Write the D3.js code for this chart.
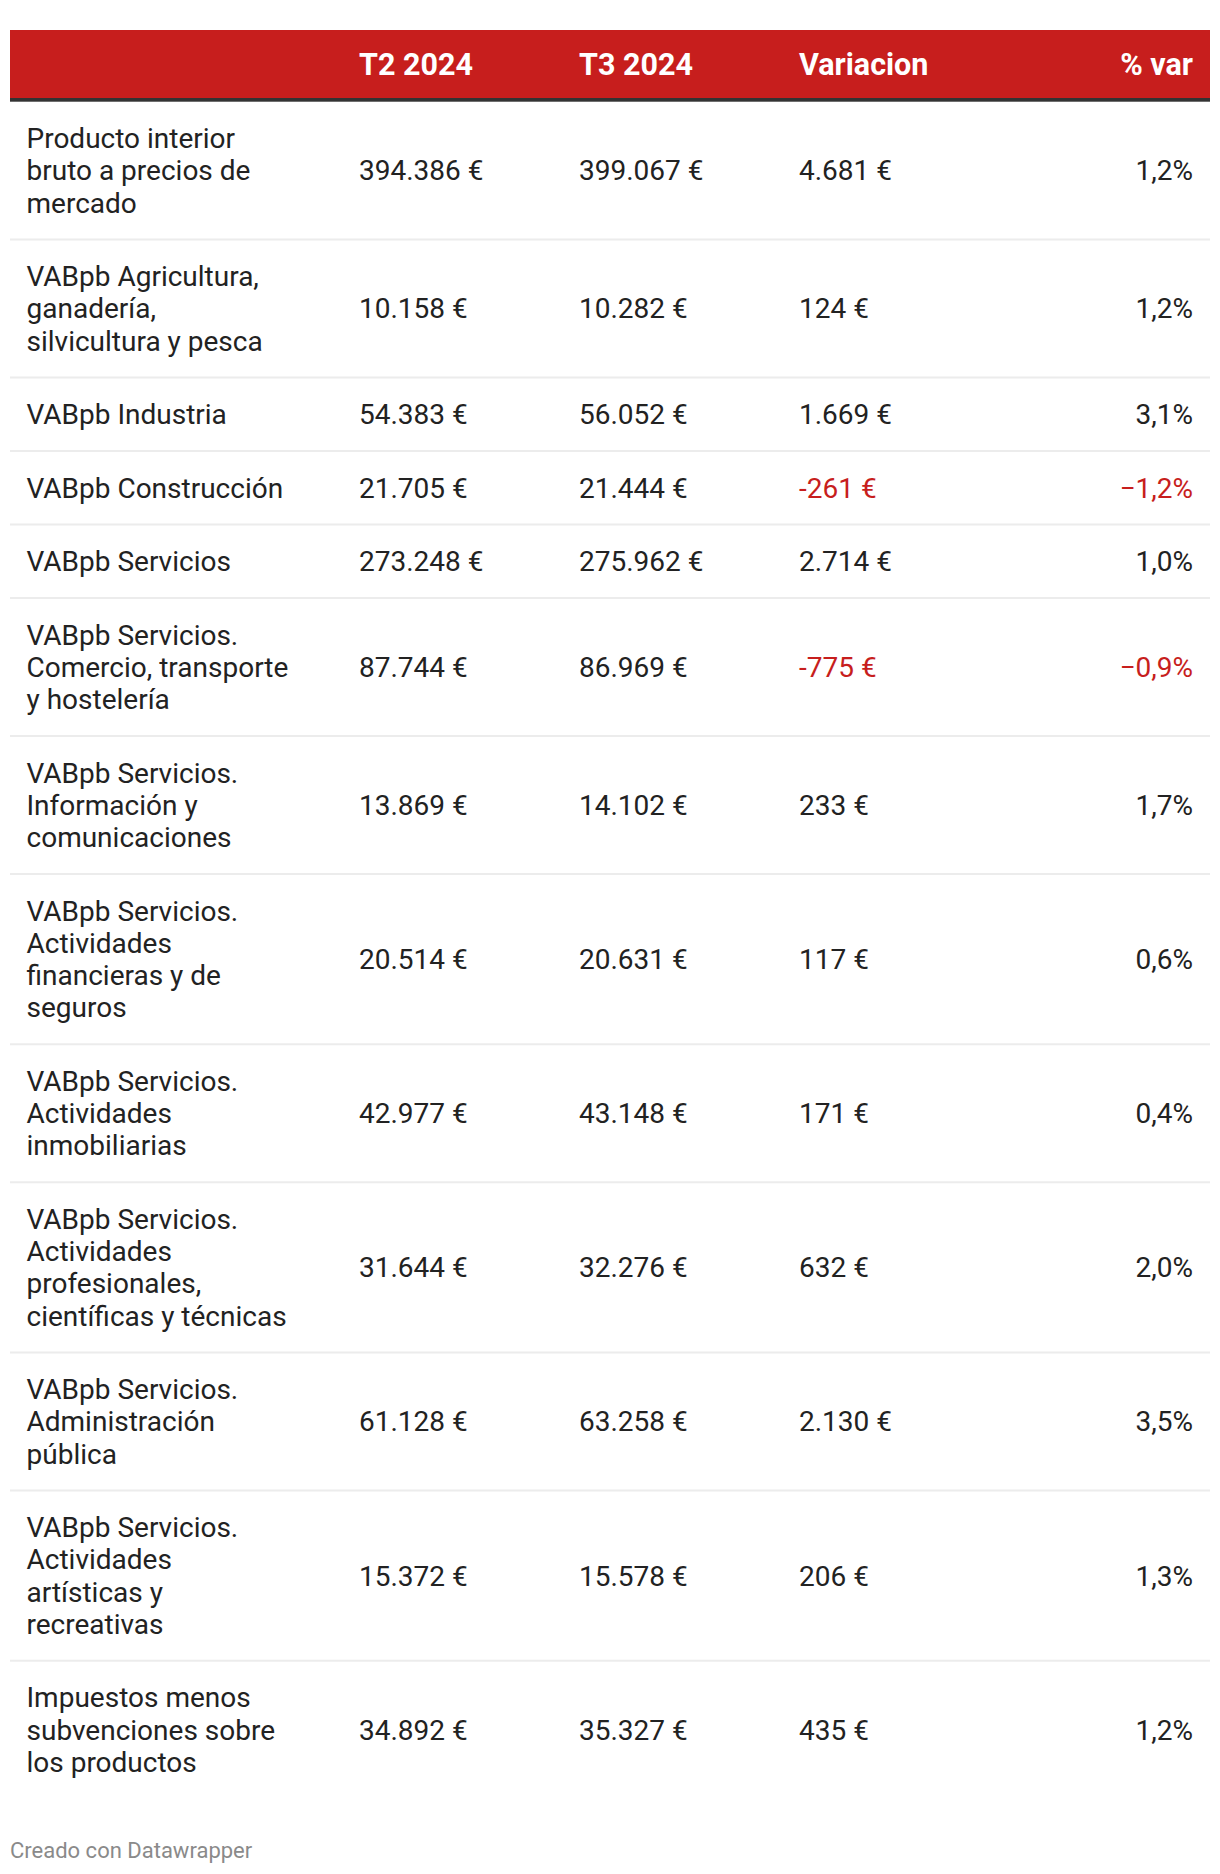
<!DOCTYPE html>
<html><head><meta charset="utf-8">
<script src="https://cdn.jsdelivr.net/npm/d3@7"></script>
<style>
html,body{margin:0;padding:0;background:#fff;}
svg{display:block;font-family:Roboto,"Noto Sans",sans-serif;}
</style>
</head><body>
<svg id="chart"></svg>
<script>
// ---- data ----
const columns = ["", "T2 2024", "T3 2024", "Variacion", "% var"];
const categories = [
  "Producto interior bruto a precios de mercado",
  "VABpb Agricultura, ganadería, silvicultura y pesca",
  "VABpb Industria",
  "VABpb Construcción",
  "VABpb Servicios",
  "VABpb Servicios. Comercio, transporte y hostelería",
  "VABpb Servicios. Información y comunicaciones",
  "VABpb Servicios. Actividades financieras y de seguros",
  "VABpb Servicios. Actividades inmobiliarias",
  "VABpb Servicios. Actividades profesionales, científicas y técnicas",
  "VABpb Servicios. Administración pública",
  "VABpb Servicios. Actividades artísticas y recreativas",
  "Impuestos menos subvenciones sobre los productos"
];
const t2 = [394386, 10158, 54383, 21705, 273248, 87744, 13869, 20514, 42977, 31644, 61128, 15372, 34892];
const t3 = [399067, 10282, 56052, 21444, 275962, 86969, 14102, 20631, 43148, 32276, 63258, 15578, 35327];
const variacion = [4681, 124, 1669, -261, 2714, -775, 233, 117, 171, 632, 2130, 206, 435];
const pctVar = [1.2, 1.2, 3.1, -1.2, 1.0, -0.9, 1.7, 0.6, 0.4, 2.0, 3.5, 1.3, 1.2];
const credit = "Creado con Datawrapper";

// ---- layout / style ----
const W = 1220, H = 1874;
const tableX0 = 10, tableX1 = 1210;
const headTop = 30, headBottom = 98, borderH = 3.7;
const rowStart = 101.5, rowBase = 73.5, lineH = 32.25, capHalf = 9.9;
const bodySize = 28, headSize = 30.5;
const red = "#c71e1d", ink = "#222222", sepColor = "#ececec";
const labelMaxW = 264;

const esLocale = d3.formatLocale({decimal: ",", thousands: ".", grouping: [3], currency: ["", " €"], minus: "-"});
const esLocalePct = d3.formatLocale({decimal: ",", thousands: ".", grouping: [3], currency: ["", "€"], minus: "\u2212"});
const fmtEur = v => esLocale.format(",d")(v) + " €";
const fmtPct = v => esLocalePct.format(".1f")(v) + "%";

const colX = d3.scaleOrdinal().domain(columns).range([26.5, 359, 579, 799, 1193]);
const colAnchor = d3.scaleOrdinal().domain(columns).range(["start", "start", "start", "start", "end"]);

const svg = d3.select("#chart").attr("width", W).attr("height", H);
svg.append("rect").attr("width", W).attr("height", H).attr("fill", "#fff");

// header
svg.append("rect").attr("x", tableX0).attr("y", headTop).attr("width", tableX1 - tableX0)
  .attr("height", headBottom - headTop).attr("fill", red);
svg.append("rect").attr("x", tableX0).attr("y", headBottom).attr("width", tableX1 - tableX0)
  .attr("height", borderH).attr("fill", "#333333");
svg.append("g").selectAll("text").data(columns.slice(1)).join("text")
  .attr("x", d => colX(d)).attr("y", (headTop + headBottom) / 2 + 10.5)
  .attr("text-anchor", d => colAnchor(d))
  .attr("fill", "#fff").attr("font-weight", 700).attr("font-size", headSize)
  .text(d => d);

// wrap labels by measuring
const measure = svg.append("text").attr("font-size", bodySize).attr("visibility", "hidden");
function wrap(str) {
  const words = str.split(" ");
  const lines = [];
  let cur = "";
  words.forEach(w => {
    const test = cur ? cur + " " + w : w;
    measure.text(test);
    if (cur && measure.node().getComputedTextLength() > labelMaxW) {
      lines.push(cur); cur = w;
    } else cur = test;
  });
  if (cur) lines.push(cur);
  return lines;
}

const rows = categories.map((c, i) => ({
  label: c, lines: wrap(c), t2: t2[i], t3: t3[i], v: variacion[i], p: pctVar[i]
}));
measure.remove();
let y = rowStart;
rows.forEach(r => {
  r.y0 = y;
  r.h = rowBase + (r.lines.length - 1) * lineH;
  r.cy = y + r.h / 2;
  y += r.h;
});

const body = svg.append("g");
// separators
body.selectAll("line.sep").data(rows.slice(0, -1)).join("line")
  .attr("class", "sep")
  .attr("x1", tableX0).attr("x2", tableX1)
  .attr("y1", d => d.y0 + d.h).attr("y2", d => d.y0 + d.h)
  .attr("stroke", sepColor).attr("stroke-width", 2);

const rowG = body.selectAll("g.row").data(rows).join("g").attr("class", "row");

// labels
rowG.append("text")
  .attr("font-size", bodySize).attr("fill", ink)
  .selectAll("tspan").data(d => d.lines.map((l, i) => ({l, i, n: d.lines.length, cy: d.cy})))
  .join("tspan")
  .attr("x", colX(""))
  .attr("y", d => d.cy + (d.i - (d.n - 1) / 2) * lineH + capHalf)
  .text(d => d.l);

const cells = [
  {col: "T2 2024", val: d => fmtEur(d.t2), neg: d => false},
  {col: "T3 2024", val: d => fmtEur(d.t3), neg: d => false},
  {col: "Variacion", val: d => fmtEur(d.v), neg: d => d.v < 0},
  {col: "% var", val: d => fmtPct(d.p), neg: d => d.p < 0}
];
cells.forEach(c => {
  rowG.append("text")
    .attr("x", colX(c.col)).attr("y", d => d.cy + capHalf)
    .attr("text-anchor", colAnchor(c.col))
    .attr("font-size", bodySize)
    .attr("fill", d => c.neg(d) ? red : ink)
    .text(d => c.val(d));
});

// footer
svg.append("text").attr("x", 10).attr("y", 1858)
  .attr("font-size", 22).attr("fill", "#8a8a8a").text(credit);
</script>
</body></html>
